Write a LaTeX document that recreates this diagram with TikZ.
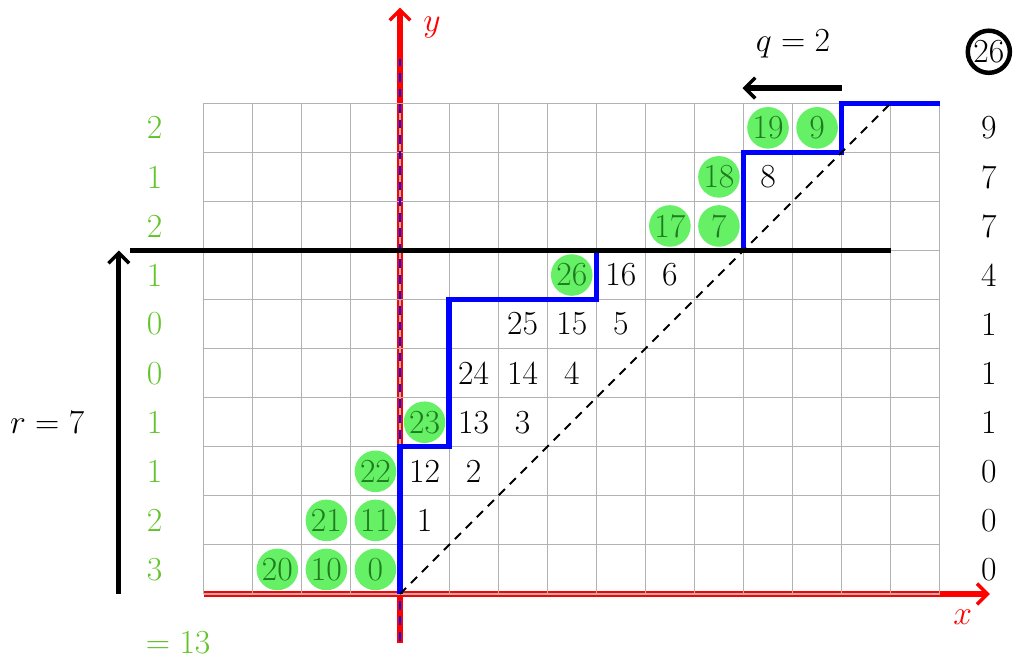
\documentclass[tikz,border=0pt]{standalone}
\usetikzlibrary{arrows.meta}
\definecolor{lblgreen}{RGB}{98,196,42}
\definecolor{circfill}{RGB}{102,240,102}
\definecolor{circtext}{RGB}{30,125,30}
\begin{document}
\begin{tikzpicture}[x=1cm,y=1cm,
  every node/.style={font=\LARGE,scale=1.13},
  cnum/.style={circle,fill=circfill,text=circtext,minimum size=0.75cm,inner sep=0pt},
  pnum/.style={inner sep=0pt},
  glbl/.style={text=lblgreen,inner sep=0pt},
  rlbl/.style={inner sep=0pt},
  tip/.style={-{Straight Barb[length=6pt,width=12pt,line width=2pt]}},
  axis/.style={red,line width=3.4pt,tip},
  stair/.style={blue,line width=3pt},
  bigline/.style={black,line width=3pt},
  gridline/.style={gray!60,line width=0.6pt}]
\useasboundingbox (-8.152,-1.365) rectangle (12.533,12.105);
% axes
\draw[axis] (-4,0) -- (12.02,0);
\draw[axis] (0,-1) -- (0,11.95);
\node[red] (xl) at (11.47,-0.47) {$x$};
\node[red] (yl) at (0.65,11.55) {$y$};
% grid
\draw[gridline] (-4,0) grid (11,10);
% blue dashed on y axis
\draw[blue,line width=1.4pt,dash pattern=on 5pt off 4pt] (0,-0.95) -- (0,10.9);
% staircase
\draw[stair] (0,0) -- (0,3) -- (1,3) -- (1,6) -- (4,6) -- (4,7) -- (7,7) -- (7,9) -- (9,9) -- (9,10) -- (11,10);
% diagonal
\draw[black,line width=1.2pt,dash pattern=on 5pt off 4pt] (0,0) -- (10,10);
% horizontal black line at y=7
\coordinate (hl1) at (-5.5,7);
\coordinate (hl2) at (10,7);
\draw[bigline] (hl1) -- (hl2);
% r arrow
\coordinate (ra) at (-5.73,0);
\coordinate (rb) at (-5.73,7);
\draw[bigline,tip] (ra) -- (rb);
\node (r) at (-7.19,3.5) {$r=7$};
% q arrow
\coordinate (qa) at (9,10.31);
\coordinate (qb) at (6.98,10.31);
\draw[bigline,tip] (qa) -- (qb);
\node (q) at (8.01,11.2) {$q=2$};
% circled 26
\node[circle,draw=black,line width=2.6pt,minimum size=0.76cm,inner sep=0pt] (c26) at (12,11.05) {26};
% circled numbers
\node[cnum] (n20) at (-2.5,0.5) {20};
\node[cnum] (n10) at (-1.5,0.5) {10};
\node[cnum] (n0) at (-0.5,0.5) {0};
\node[cnum] (n21) at (-1.5,1.5) {21};
\node[cnum] (n11) at (-0.5,1.5) {11};
\node[cnum] (n22) at (-0.5,2.5) {22};
\node[cnum] (n23) at (0.5,3.5) {23};
\node[cnum] (n26) at (3.5,6.5) {26};
\node[cnum] (n17) at (5.5,7.5) {17};
\node[cnum] (n7) at (6.5,7.5) {7};
\node[cnum] (n18) at (6.5,8.5) {18};
\node[cnum] (n19) at (7.5,9.5) {19};
\node[cnum] (n9) at (8.5,9.5) {9};
% plain numbers
\node[pnum] (p1) at (0.5,1.5) {1};
\node[pnum] (p12) at (0.5,2.5) {12};
\node[pnum] (p2) at (1.5,2.5) {2};
\node[pnum] (p13) at (1.5,3.5) {13};
\node[pnum] (p3) at (2.5,3.5) {3};
\node[pnum] (p24) at (1.5,4.5) {24};
\node[pnum] (p14) at (2.5,4.5) {14};
\node[pnum] (p4) at (3.5,4.5) {4};
\node[pnum] (p25) at (2.5,5.5) {25};
\node[pnum] (p15) at (3.5,5.5) {15};
\node[pnum] (p5) at (4.5,5.5) {5};
\node[pnum] (p16) at (4.5,6.5) {16};
\node[pnum] (p6) at (5.5,6.5) {6};
\node[pnum] (p8) at (7.5,8.5) {8};
% left green labels
\foreach \v [count=\i from 0] in {3,2,1,1,0,0,1,2,1,2} {
  \node[glbl] (g\i) at (-5,\i+0.5) {\v};
}
\node[glbl] (gsum) at (-4.52,-1.0) {$=13$};
% right labels
\foreach \v [count=\i from 0] in {0,0,0,1,1,1,4,7,7,9} {
  \node[rlbl] (rl\i) at (12,\i+0.5) {\v};
}
\end{tikzpicture}
\end{document}
